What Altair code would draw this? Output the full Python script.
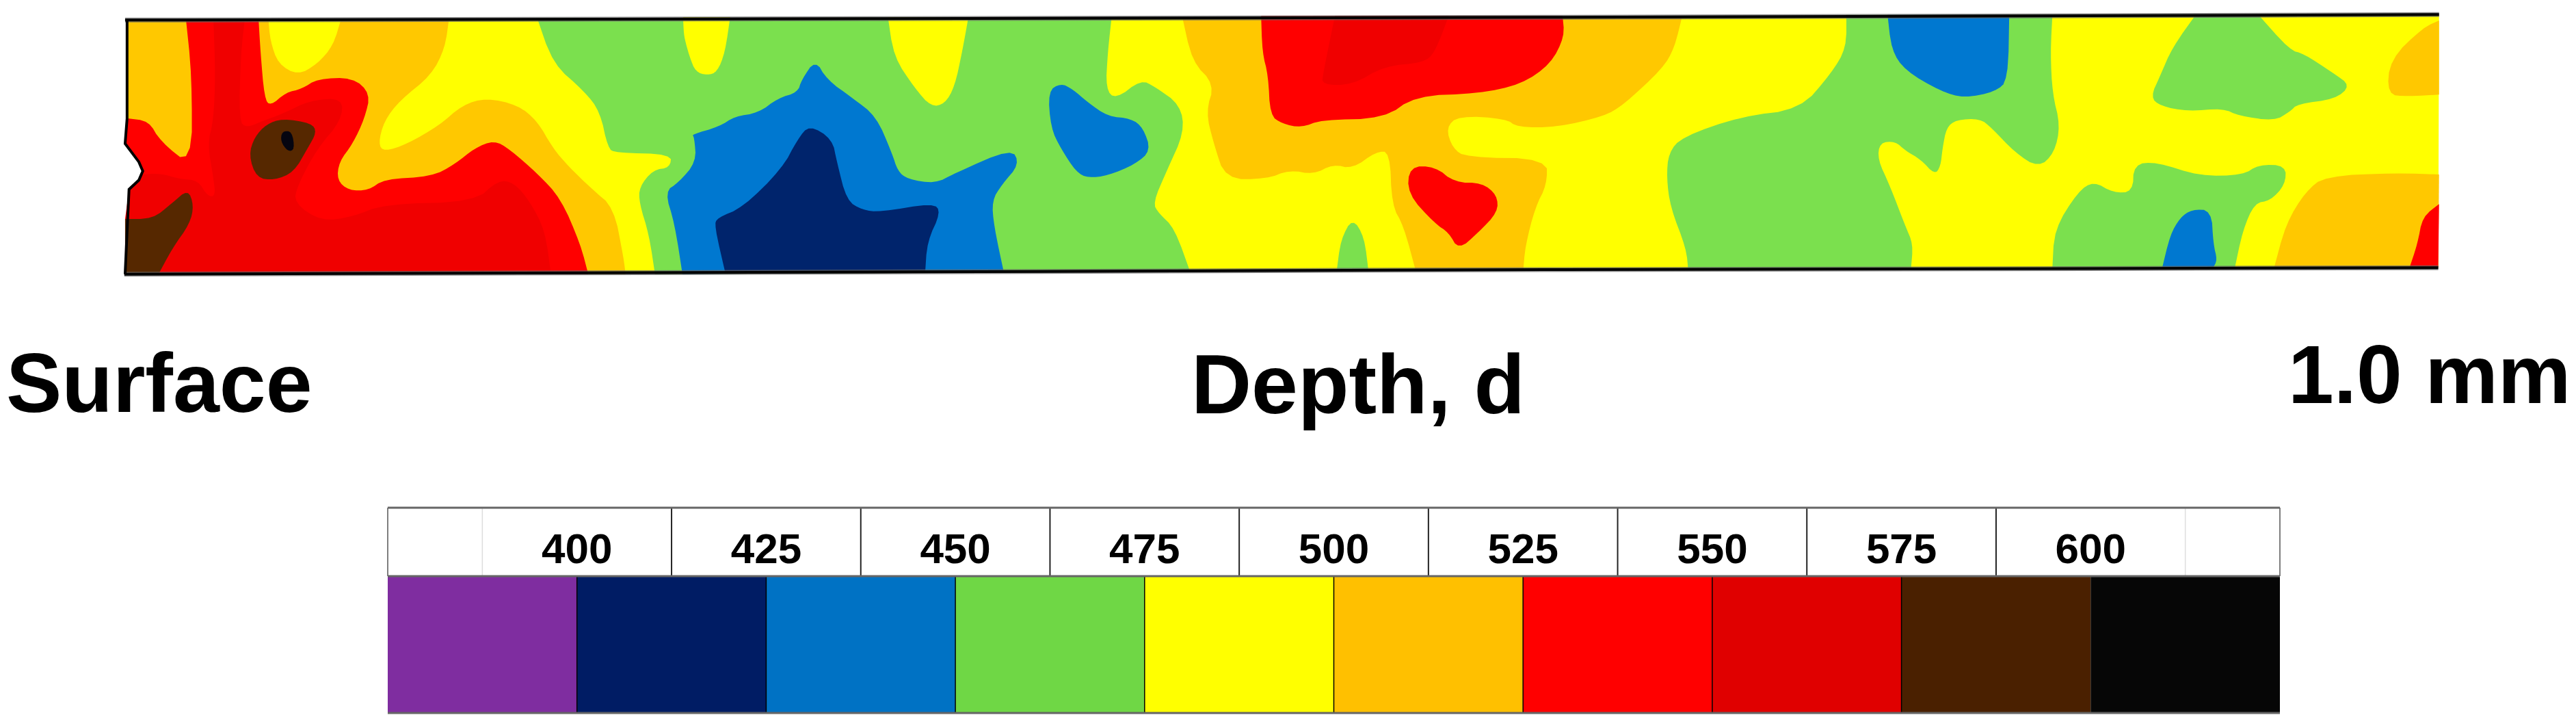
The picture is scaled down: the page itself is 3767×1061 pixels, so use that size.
import altair as alt
import pandas as pd

# ---- hardness classes (legend) ----
band_start = [375, 400, 425, 450, 475, 500, 525, 550, 575, 600]
band_names = ["purple", "navy", "blue", "green", "yellow", "orange", "red", "darkred", "brown", "black"]
legend_colors = ["#7F2DA0", "#001C64", "#0072C4", "#6FD745", "#FFFF00", "#FFC000", "#FF0000", "#E00000", "#4A2000", "#060606"]
map_colors = ["#7F2DA0", "#00246C", "#0078D0", "#7BE04E", "#FFFF00", "#FFC800", "#FF0000", "#F00000", "#562800", "#050510"]
tick_labels = [400, 425, 450, 475, 500, 525, 550, 575, 600]
strong_ticks = [412.5, 437.5, 462.5, 487.5, 512.5, 537.5, 562.5, 587.5]
faint_ticks = [387.5, 612.5]
cell_edges = [400, 425, 450, 475, 500, 525, 550, 575]

# ---- contours: (crop, [(x, y), ...]) ----
crops = [(160, 900), (1000, 900), (1800, 900), (2700, 900)]

left_edge = [(40, 1172), (50, 800), (75, 760), (85, 720), (75, 680), (40, 600), (45, 490)]

base_yellow = [(0, [(45, 55)]), (3, [(1510, 35), (1508, 1142)]), (0, left_edge)]
orange_left = [(0, [(45, 55), (865, 55), (855, 180), (820, 300), (740, 410), (700, 500), (685, 600), (700, 635),
                    (760, 600), (840, 520), (900, 430), (960, 400), (1040, 430), (1090, 500), (1130, 620), (1170, 700),
                    (1230, 800), (1285, 880), (1310, 1100), (1315, 1172)] + left_edge)]
yellow_blob = [(0, [(405, 55), (410, 150), (430, 250), (480, 300), (530, 250), (570, 170), (590, 55)])]
red_left = [(0, [(195, 55), (210, 300), (210, 700), (130, 590), (100, 500), (50, 490), (45, 490), (40, 600), (75, 680),
                 (85, 720), (75, 760), (50, 800), (40, 1172), (1220, 1172), (1200, 1040), (1150, 840), (1090, 730),
                 (1020, 625), (980, 585), (930, 620), (880, 690), (820, 745), (700, 755), (660, 805), (610, 805),
                 (580, 760), (585, 680), (620, 600), (650, 490), (665, 380), (620, 310), (530, 315), (490, 360),
                 (450, 375), (410, 435), (395, 400), (385, 200), (380, 55)])]
dark_left = [(0, [(265, 55), (345, 55), (335, 200), (330, 500), (350, 530), (390, 500), (440, 470), (510, 410), (595, 400),
                  (590, 500), (530, 620), (480, 780), (470, 860), (540, 940), (620, 920), (700, 865), (930, 855),
                  (990, 760), (1030, 770), (1070, 850), (1110, 980), (1125, 1172), (40, 1172), (40, 930), (50, 800),
                  (85, 735), (130, 730), (180, 755), (225, 760), (250, 830), (270, 830), (265, 750), (250, 600),
                  (265, 500), (270, 300)])]
brown_left = [(0, [(40, 930), (110, 930), (160, 860), (200, 800), (215, 870), (205, 950), (160, 1060), (125, 1172), (40, 1172)])]
brown_oval = [(0, [(440, 490), (515, 510), (528, 550), (505, 620), (470, 725), (420, 760), (375, 750), (355, 650), (370, 570), (400, 515)])]
black_spot = [(0, [(440, 545), (465, 545), (472, 625), (455, 635), (436, 590)])]
green_main = [(0, [(1090, 50)]),
              (1, [(1090, 45), (1080, 200), (1075, 360), (1100, 405), (1165, 320), (1200, 350), (1265, 430), (1275, 550),
                   (1230, 720), (1195, 860), (1210, 905), (1250, 970), (1290, 1162)]),
              (0, [(1390, 1172), (1375, 1000), (1350, 860), (1350, 790), (1385, 715), (1428, 705), (1432, 645), (1290, 640),
                   (1270, 620), (1250, 460), (1210, 370), (1130, 250)])]
yellow_finger1 = [(1, [(-2, 45), (0, 120), (5, 160), (15, 220), (30, 285), (60, 300), (85, 285), (105, 200), (118, 45)])]
yellow_finger2 = [(1, [(520, 45), (535, 220), (590, 360), (630, 438), (665, 425), (690, 350), (710, 190), (725, 45)])]
blue_main = [(0, [(1490, 570), (1495, 680), (1450, 770), (1415, 810), (1440, 950), (1460, 1172)]),
             (1, [(815, 1162), (790, 960), (785, 850), (810, 780), (855, 690), (835, 620), (690, 730), (640, 775), (570, 755),
                  (545, 720), (530, 640), (490, 480), (430, 400), (365, 320), (335, 232), (300, 320), (290, 375), (240, 400),
                  (190, 465), (130, 480), (90, 525), (20, 560)])]
navy_main = [(1, [(320, 518), (378, 580), (390, 680), (415, 850), (455, 890), (500, 900), (635, 860), (655, 900), (620, 1030),
                  (615, 1162), (105, 1162), (78, 960), (85, 925), (150, 880), (250, 710), (290, 580)])]
blue_island = [(1, [(960, 335), (928, 370), (935, 530), (960, 620), (1000, 725), (1030, 750), (1080, 740), (1150, 690),
                    (1190, 630), (1170, 530), (1140, 490), (1080, 480), (1030, 420), (990, 360)])]
orange_mid = [(1, [(1270, 45), (1295, 240), (1352, 340), (1330, 460), (1350, 600), (1380, 755)]),
              (2, [(90, 755), (150, 715), (210, 735), (260, 690), (310, 710), (370, 635), (405, 635), (410, 870), (440, 960),
                   (470, 1152), (745, 1152), (750, 1050), (775, 880), (805, 780), (805, 665), (600, 660), (565, 620), (548, 530),
                   (580, 478), (700, 490), (730, 528), (830, 528), (950, 480), (1000, 430), (1100, 270), (1130, 180), (1150, 40)])]
red_top = [(2, [(77, 40), (80, 200), (95, 300), (100, 475), (130, 512), (180, 530), (230, 495), (390, 490), (470, 390), (630, 380),
                (740, 340), (815, 250), (850, 130), (845, 40)])]
dark_top = [(2, [(265, 40), (235, 290), (232, 342), (310, 342), (390, 260), (490, 245), (520, 200), (555, 40)])]
red_island = [(2, [(455, 700), (520, 700), (570, 770), (640, 772), (678, 825), (680, 900), (630, 990), (580, 1065), (555, 990),
                   (520, 950), (450, 820)])]
green_small = [(2, [(310, 925), (280, 1020), (270, 1152), (350, 1152), (340, 1010)])]
green_right = [(2, [(1568, 180), (1530, 290), (1450, 450), (1300, 480), (1150, 570), (1115, 640), (1110, 750), (1120, 880),
                    (1160, 1060), (1165, 1152)]),
               (3, [(165, 1142), (170, 1040), (150, 960), (110, 780), (80, 670), (85, 595), (125, 590), (150, 630), (190, 670),
                    (225, 735), (240, 700), (245, 620), (255, 530), (280, 495), (340, 490), (370, 530), (430, 640), (490, 705),
                    (530, 640), (545, 520), (525, 380), (520, 200), (525, 35), (0, 35)])]
blue_top = [(3, [(105, 35), (115, 190), (150, 280), (240, 370), (300, 400), (380, 372), (412, 320), (415, 35)])]
green_blob = [(3, [(890, 35), (830, 180), (800, 300), (775, 395), (800, 435), (870, 458), (960, 445), (1000, 478), (1090, 500),
                   (1130, 460), (1150, 425), (1245, 405), (1285, 345), (1240, 290), (1165, 205), (1130, 190), (1050, 35)])]
orange_topright = [(3, [(1510, 60), (1470, 90), (1385, 230), (1378, 385), (1430, 393), (1510, 385)])]
green_lower = [(3, [(530, 975), (590, 810), (630, 765), (680, 815), (730, 812), (732, 690), (790, 680), (900, 742), (1010, 738),
                    (1050, 692), (1120, 695), (1118, 780), (1080, 850), (1040, 860), (1010, 980), (990, 1142), (525, 1142)])]
blue_lower = [(3, [(880, 888), (930, 892), (935, 1040), (945, 1110), (935, 1142), (805, 1142), (825, 1000), (850, 925)])]
orange_lower = [(3, [(1090, 1142), (1120, 950), (1170, 810), (1220, 742), (1400, 728), (1510, 735), (1508, 1142)])]
red_lower = [(3, [(1510, 865), (1468, 920), (1455, 1040), (1435, 1142), (1508, 1142)])]

# drawn in this order, later contours over earlier ones
regions = [
    ("yellow", base_yellow), ("orange", orange_left), ("yellow", yellow_blob), ("red", red_left),
    ("darkred", dark_left), ("brown", brown_left), ("brown", brown_oval), ("black", black_spot),
    ("green", green_main), ("yellow", yellow_finger1), ("yellow", yellow_finger2), ("blue", blue_main),
    ("navy", navy_main), ("blue", blue_island), ("orange", orange_mid), ("red", red_top),
    ("darkred", dark_top), ("red", red_island), ("green", green_small), ("green", green_right),
    ("blue", blue_top), ("green", green_blob), ("orange", orange_topright), ("green", green_lower),
    ("blue", blue_lower), ("orange", orange_lower), ("red", red_lower),
]

top_edge = [(0, [(40, 58)]), (1, [(500, 52)]), (2, [(800, 46)]), (3, [(1510, 34)])]
bottom_edge = [(0, [(38, 1172)]), (1, [(600, 1162)]), (2, [(800, 1152)]), (3, [(1508, 1144)])]
side_edge = [(0, [(45, 58), (45, 490), (40, 600), (75, 680), (85, 720), (75, 760), (50, 800), (40, 1172)])]

frame_top = [60, 50, 45, 40]
frame_bottom = [1165, 1155, 1148, 1138]


def trace(parts):
    """Crop read-offs to picture coordinates, with a flag for vertices that lie on the frame."""
    out = []
    for crop, pts in parts:
        x0, w = crops[crop]
        for px, py in pts:
            on_frame = (py <= frame_top[crop] or py >= frame_bottom[crop]
                        or (crop == 0 and px <= 90) or (crop == 3 and px >= 1505))
            out.append((x0 + px * w / 1568, 10 + py / 3, on_frame))
    return out


def round_outline(ring):
    """Rounds the corners of a closed contour, as a curved outline does; frame vertices stay put."""
    out = []
    n = len(ring)
    for i, (x, y, fixed) in enumerate(ring):
        if fixed:
            out.append((x, y, True))
            continue
        ax, ay, _ = ring[i - 1]
        bx, by, _ = ring[(i + 1) % n]
        out.append((x + 0.25 * (ax - x), y + 0.25 * (ay - y), False))
        out.append((x + 0.25 * (bx - x), y + 0.25 * (by - y), False))
    return out


features = []
for band, parts in regions:
    ring = trace(parts)
    for _ in range(2):
        ring = round_outline(ring)
    coords = [[x, y] for x, y, _ in ring]
    coords.append(coords[0])
    features.append({"type": "Feature", "properties": {"band": band},
                     "geometry": {"type": "Polygon", "coordinates": [coords]}})


def lines(items):
    return {"type": "FeatureCollection",
            "features": [{"type": "Feature", "properties": {},
                          "geometry": {"type": "LineString",
                                       "coordinates": [[x, y] for x, y, _ in trace(p)]}} for p in items]}


def geo(values):
    return alt.InlineData(values=values, format=alt.DataFormat(property="features", type="json"))


proj = alt.Projection(type="identity", scale=1, translate=[-8, -8])

contours = alt.Chart(geo({"type": "FeatureCollection", "features": features})).mark_geoshape(
    strokeWidth=0
).encode(
    color=alt.Color("properties.band:N", scale=alt.Scale(domain=band_names, range=map_colors), legend=None)
).project(**proj.to_dict())

halo = alt.Chart(geo(lines([top_edge, bottom_edge]))).mark_geoshape(
    filled=False, stroke="#666666", strokeWidth=7, opacity=0.7
).project(**proj.to_dict())
edge = alt.Chart(geo(lines([top_edge, bottom_edge, side_edge]))).mark_geoshape(
    filled=False, stroke="#000000", strokeWidth=4
).project(**proj.to_dict())

# ---- colour key ----
hard = alt.Scale(domain=[375, 625], range=[559, 3326])
rows = alt.Scale(domain=[0, 3], range=[1034, 734])

key_df = pd.DataFrame({"start": band_start, "end": [s + 25 for s in band_start], "band": band_names,
                       "lo": 0, "hi": 2})
key = alt.Chart(key_df).mark_rect().encode(
    x=alt.X("start:Q", scale=hard, axis=None),
    x2="end:Q",
    y=alt.Y("lo:Q", scale=rows, axis=None),
    y2="hi:Q",
    color=alt.Color("band:N", scale=alt.Scale(domain=band_names, range=legend_colors), legend=None),
)


def vrules(values, lo, hi, color, width):
    df = pd.DataFrame({"h": values, "lo": lo, "hi": hi})
    return alt.Chart(df).mark_rule(color=color, strokeWidth=width).encode(
        x=alt.X("h:Q", scale=hard, axis=None), y=alt.Y("lo:Q", scale=rows, axis=None), y2="hi:Q")


def hrules(values, color, width):
    df = pd.DataFrame({"r": values, "a": 375, "b": 625})
    return alt.Chart(df).mark_rule(color=color, strokeWidth=width).encode(
        x=alt.X("a:Q", scale=hard, axis=None), x2="b:Q", y=alt.Y("r:Q", scale=rows, axis=None))


label_df = pd.DataFrame({"h": tick_labels, "row": 2.19, "t": [str(v) for v in tick_labels]})
key_labels = alt.Chart(label_df).mark_text(
    font="Liberation Sans", fontWeight="bold", fontSize=62, color="#000000", baseline="alphabetic"
).encode(
    x=alt.X("h:Q", scale=hard, axis=None), y=alt.Y("row:Q", scale=rows, axis=None), text="t:N"
)


def caption(text, x, y, size):
    return alt.Chart(pd.DataFrame({"t": [text]})).mark_text(
        font="Liberation Sans", fontWeight="bold", fontSize=size, color="#000000", align="left", baseline="alphabetic"
    ).encode(x=alt.value(x), y=alt.value(y), text="t:N")


chart = alt.layer(
    contours, halo, edge,
    key,
    vrules(cell_edges, 0, 2, "#000000", 1.5),
    vrules(faint_ticks, 2, 3, "#DDDDDD", 1.5),
    vrules(strong_ticks, 2, 3, "#222222", 2),
    vrules([375, 625], 2, 3, "#555555", 1.5),
    hrules([0, 2, 3], "#666666", 3),
    key_labels,
    caption("Surface", 1, 594, 122),
    caption("Depth, d", 1734, 596, 122),
    caption("1.0 mm", 3338, 581, 120),
).resolve_scale(color="independent").properties(
    width=3751, height=1040, padding=0, background="white",
    autosize=alt.AutoSizeParams(type="none")
).configure_view(stroke=None)

chart.save("out.html", embed_options={"renderer": "svg", "actions": False})
